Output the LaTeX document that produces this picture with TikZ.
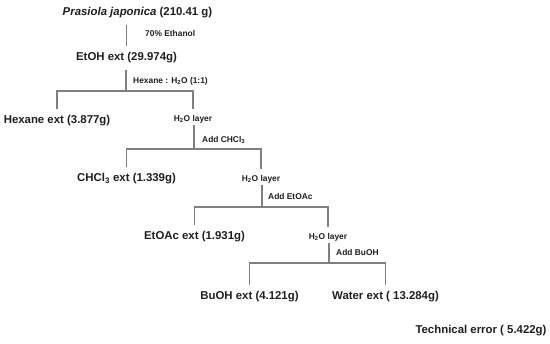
\documentclass[tikz,border=0pt]{standalone}
\usepackage{fontspec}
\setmainfont{Liberation Sans}
\usepackage{tikz}

\begin{document}
\begin{tikzpicture}[
  x=1pt, y=-1pt,
  every node/.style={inner sep=1pt, text=black!88},
  frac/.style={font=\fontsize{11.4}{13}\selectfont\bfseries, inner sep=2pt, outer sep=4.5pt},
  layer/.style={font=\fontsize{8.4}{10}\selectfont\bfseries, inner sep=1pt, outer sep=1.5pt},
  stepnote/.style={font=\fontsize{8.4}{10}\selectfont\bfseries, anchor=west},
  link/.style={draw=black!50, line width=1.5pt}]

  \useasboundingbox (0,0) rectangle (550,344);

  % fractions and layers
  \node[frac]  (plant)  at (137.5, 13) {\textit{Prasiola japonica} (210.41 g)};
  \node[frac]  (etoh)   at (126.5, 58) {EtOH ext (29.974g)};
  \node[frac]  (hexane) at (57, 121) {Hexane ext (3.877g)};
  \node[layer] (aq1)    at (193, 119) {H\textsubscript{2}O layer};
  \node[frac]  (chcl)   at (126.5, 179) {CHCl\textsubscript{3} ext (1.339g)};
  \node[layer] (aq2)    at (261, 179) {H\textsubscript{2}O layer};
  \node[frac]  (etoac)  at (194.5, 237) {EtOAc ext (1.931g)};
  \node[layer] (aq3)    at (328, 237) {H\textsubscript{2}O layer};
  \node[frac]  (buoh)   at (249.5, 297) {BuOH ext (4.121g)};
  \node[frac]  (water)  at (385.5, 297) {Water ext ( 13.284g)};
  \node[frac]  (loss)   at (481, 331) {Technical error ( 5.422g)};

  % branch points
  \coordinate (j1) at (126, 91);
  \coordinate (j2) at (194, 149);
  \coordinate (j3) at (262, 207);
  \coordinate (j4) at (329, 263);

  % connectors
  \draw[link] (etoh.north |- plant.south) -- (etoh.north);
  \draw[link] (etoh.south -| j1) -- (j1);
  \draw[link] (hexane.north) |- (j1) -| ([yshift=3.5pt]aq1.north);
  \draw[link] (aq1.south -| j2) -- (j2);
  \draw[link] (chcl.north) |- (j2) -| ([yshift=3.5pt]aq2.north);
  \draw[link] (aq2.south -| j3) -- (j3);
  \draw[link] (etoac.north) |- (j3) -| ([yshift=3.5pt]aq3.north);
  \draw[link] (aq3.south -| j4) -- (j4);
  \draw[link] (buoh.north) |- (j4) -| (water.north);

  % solvent steps printed beside the stems
  \node[stepnote] (s1) at (144, 34)  {70\% Ethanol};
  \node[stepnote] (s2) at (132, 81)  {Hexane : H\textsubscript{2}O (1:1)};
  \node[stepnote] (s3) at (201, 140) {Add CHCl\textsubscript{3}};
  \node[stepnote] (s4) at (267, 197) {Add EtOAc};
  \node[stepnote] (s5) at (335, 253) {Add BuOH};
\end{tikzpicture}
\end{document}
